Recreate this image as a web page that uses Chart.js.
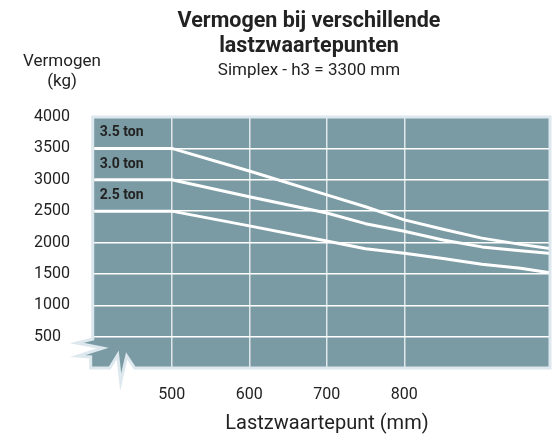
<!DOCTYPE html>
<html>
<head>
<meta charset="utf-8">
<script src="https://cdn.jsdelivr.net/npm/chart.js@4.4.1/dist/chart.umd.min.js"></script>
<style>
  html, body { margin: 0; padding: 0; background: #fff; }
  #wrap { width: 555px; height: 435px; }
</style>
</head>
<body>
<div id="wrap"><canvas id="vermogenChart"></canvas></div>
<script>
const lastzwaartepunt = [400, 500, 600, 700, 750, 800, 850, 900, 950, 990];
const ton35 = [3500, 3500, 3140, 2760, 2570, 2360, 2210, 2070, 1970, 1900];
const ton30 = [3000, 3000, 2730, 2470, 2300, 2180, 2040, 1930, 1870, 1825];
const ton25 = [2500, 2500, 2265, 2025, 1900, 1830, 1745, 1655, 1590, 1515];
const seriesLabels = ['3.5 ton', '3.0 ton', '2.5 ton'];
const labelLevels = [3750, 3250, 2750];
const xTicks = [500, 600, 700, 800];

const plotColor = '#7b9ba4';
const frameColor = '#dce8ee';
const textColor = '#222222';
const fontFam = 'Roboto, "DejaVu Sans", sans-serif';

const toPoints = (vals) => vals.map((v, i) => ({ x: lastzwaartepunt[i], y: v }));

// frame, break marks, texts
const framePlugin = {
    id: 'frame',
    beforeDraw(chart) {
        const c = chart.ctx;
        c.save();
        framePath(chart);
        c.fillStyle = plotColor;
        c.fill();
        c.restore();
    },
    afterDatasetsDraw(chart) {
        const c = chart.ctx;
        c.save();
        framePath(chart);
        c.strokeStyle = frameColor;
        c.lineWidth = 3;
        c.lineJoin = 'miter';
        c.stroke();
        c.restore();

        const a = chart.chartArea;
        const y = chart.scales.y;
        c.save();
        c.fillStyle = textColor;
        c.textBaseline = 'middle';
        c.textAlign = 'left';
        c.font = 'bold 14px ' + fontFam;
        seriesLabels.forEach((t, i) => {
            c.fillText(t, a.left + 7, y.getPixelForValue(labelLevels[i]));
        });

        c.textAlign = 'center';
        c.font = 'bold 21.5px ' + fontFam;
        c.fillText('Vermogen bij verschillende', 309, 22);
        c.fillText('lastzwaartepunten', 309, 47);
        c.font = '17px ' + fontFam;
        c.fillText('Simplex - h3 = 3300 mm', 309, 71);
        c.font = '17px ' + fontFam;
        c.fillText('Vermogen', 62, 62);
        c.fillText('(kg)', 62, 82);
        c.font = '20px ' + fontFam;
        c.fillText('Lastzwaartepunt (mm)', 327, 424);
        c.restore();
    }
};

function framePath(chart) {
    const a = chart.chartArea;
    const c = chart.ctx;
    const L = a.left, T = a.top, R = a.right, B = a.bottom;
    c.beginPath();
    c.moveTo(L, T);
    c.lineTo(R, T);
    c.lineTo(R, B);
    c.lineTo(L + 42, B);
    c.lineTo(L + 34, B - 12);
    c.lineTo(L + 28, B + 14);
    c.lineTo(L + 25, B - 13);
    c.lineTo(L + 17, B);
    c.lineTo(L - 2, B);
    c.lineTo(L - 2, B - 11);
    c.lineTo(L - 15, B - 12);
    c.lineTo(L + 10, B - 20);
    c.lineTo(L - 16, B - 25);
    c.lineTo(L, B - 29);
    c.closePath();
}

const lineStyle = {
    borderColor: '#ffffff',
    borderWidth: 3,
    pointRadius: 0,
    fill: false,
    tension: 0,
    borderJoinStyle: 'round',
    clip: 2
};

new Chart(document.getElementById('vermogenChart'), {
    type: 'line',
    data: {
        datasets: [
            { label: seriesLabels[0], data: toPoints(ton35), ...lineStyle },
            { label: seriesLabels[1], data: toPoints(ton30), ...lineStyle },
            { label: seriesLabels[2], data: toPoints(ton25), ...lineStyle }
        ]
    },
    options: {
        responsive: true,
        maintainAspectRatio: false,
        animation: false,
        layout: { padding: { top: 117, left: 34, right: 5, bottom: 0 } },
        plugins: {
            legend: { display: false },
            tooltip: { enabled: false }
        },
        scales: {
            x: {
                type: 'linear',
                min: 398,
                max: 988,
                afterBuildTicks: (scale) => {
                    scale.ticks = xTicks.map(v => ({ value: v }));
                },
                afterFit: (scale) => { scale.height = 67; },
                border: { display: false },
                grid: {
                    color: '#dfe7ea',
                    lineWidth: 1.5,
                    drawTicks: false
                },
                ticks: {
                    padding: 17,
                    color: textColor,
                    font: { size: 16, family: fontFam }
                }
            },
            y: {
                min: 0,
                max: 4000,
                afterFit: (scale) => { scale.width = 58.7; },
                border: { display: false },
                grid: {
                    color: (ctx) => (ctx.tick.value === 0 || ctx.tick.value === 4000) ? 'rgba(0,0,0,0)' : '#ffffff',
                    lineWidth: 1.5,
                    drawTicks: false
                },
                ticks: {
                    stepSize: 500,
                    crossAlign: 'far',
                    padding: 8,
                    color: textColor,
                    font: { size: 16, family: fontFam },
                    callback: (v) => v === 0 ? '' : v
                }
            }
        }
    },
    plugins: [framePlugin]
});
</script>
</body>
</html>
